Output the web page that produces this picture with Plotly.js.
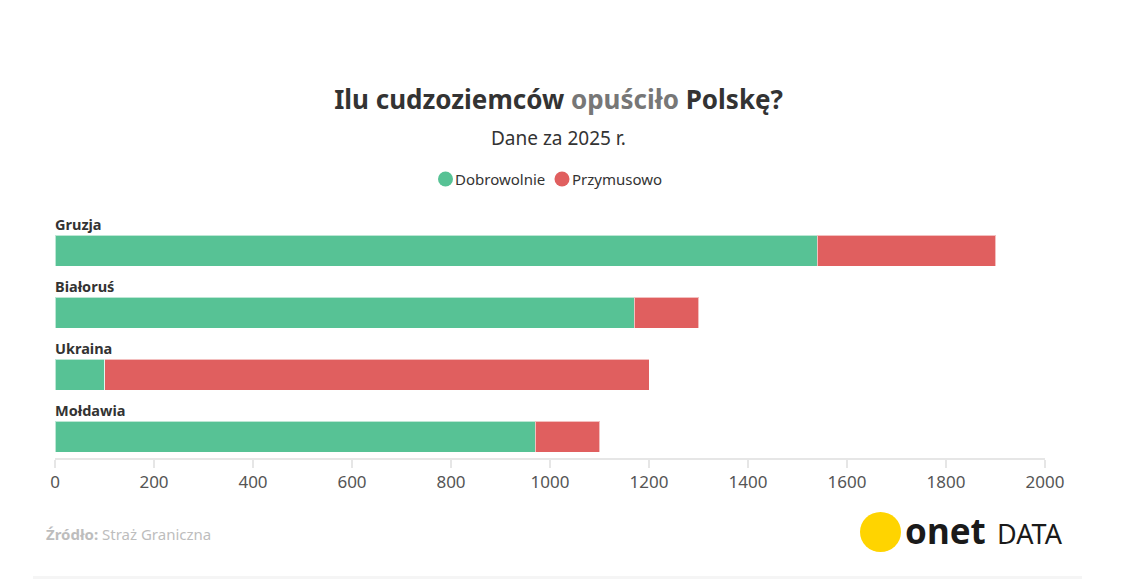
<!DOCTYPE html>
<html><head><meta charset="utf-8">
<script src="https://cdn.plot.ly/plotly-3.0.1.min.js"></script>
<style>html,body{margin:0;padding:0;background:#fff}#chart{width:1125px;height:579px}</style>
</head><body><div id="chart"></div>
<script>
const categories = ["Gruzja", "Białoruś", "Ukraina", "Mołdawia"];
const dobrowolnie = [1540, 1170, 100, 970];
const przymusowo = [360, 130, 1100, 130];
const xTicks = [0, 200, 400, 600, 800, 1000, 1200, 1400, 1600, 1800, 2000];
const seriesNames = ["Dobrowolnie", "Przymusowo"];

const GREEN = "#57c295", RED = "#e05f5f";
const FONT = "Noto Sans";
const L = 55, R = 1045, T = 220, B = 458;
const px = x => (x - L) / (R - L);
const py = y => (B - y) / (B - T);

const traces = [
  {type: "bar", orientation: "h", name: seriesNames[0], y: categories, x: dobrowolnie,
   marker: {color: GREEN, line: {color: "rgba(255,255,255,0.6)", width: 1}}, width: 0.5,
   showlegend: false},
  {type: "bar", orientation: "h", name: seriesNames[1], y: categories, x: przymusowo,
   marker: {color: RED, line: {color: "rgba(255,255,255,0.6)", width: 1}}, width: 0.5,
   showlegend: false}
];

const annotations = categories.map((c, i) => ({
  x: 0, y: c, xref: "x", yref: "y", text: "<b>" + c + "</b>", showarrow: false,
  xanchor: "left", yanchor: "bottom", yshift: 15, xshift: -2,
  font: {family: FONT, size: 14.5, color: "#333"}
}));
// legend (custom, circles)
const legendItems = [
  {name: seriesNames[0], color: GREEN, cx: 445.5, tx: 453},
  {name: seriesNames[1], color: RED, cx: 562, tx: 570}
];
const shapes = [];
legendItems.forEach(it => {
  annotations.push({xref: "paper", yref: "paper", x: px(it.tx), y: py(179), xanchor: "left", yanchor: "middle",
    showarrow: false, text: it.name, font: {family: FONT, size: 15, color: "#333"}});
  shapes.push({type: "circle", xref: "paper", yref: "paper", x0: px(it.cx - 7.5), x1: px(it.cx + 7.5),
    y0: py(186.5), y1: py(171.5), fillcolor: it.color, line: {width: 0}});
});
annotations.push({
  xref: "paper", yref: "paper", x: px(44), y: py(534), xanchor: "left", yanchor: "middle",
  showarrow: false, text: "<b>Źródło:</b> Straż Graniczna",
  font: {family: FONT, size: 15, color: "#bdbdbd"}
});
annotations.push({
  xref: "paper", yref: "paper", x: px(903), y: py(530), xanchor: "left", yanchor: "middle",
  showarrow: false, text: "<b>onet</b>", font: {family: FONT, size: 35, color: "#1a1a1a"}
});
annotations.push({
  xref: "paper", yref: "paper", x: px(995), y: py(533), xanchor: "left", yanchor: "middle",
  showarrow: false, text: "DATA", font: {family: FONT, size: 27, color: "#1a1a1a"}
});
annotations.push({
  xref: "paper", yref: "paper", x: px(558.5), y: py(138), xanchor: "center", yanchor: "middle",
  showarrow: false, text: "Dane za 2025 r.", font: {family: FONT, size: 19, color: "#333"}
});
shapes.push({type: "circle", xref: "paper", yref: "paper", x0: px(860), x1: px(901), y0: py(552), y1: py(512),
  fillcolor: "#ffd400", line: {width: 0}});
shapes.push({type: "rect", xref: "paper", yref: "paper", x0: px(33), x1: px(1082), y0: py(579), y1: py(576),
  fillcolor: "#f5f5f5", line: {width: 0}});

const layout = {
  width: 1125, height: 579,
  margin: {l: L, r: 1125 - R, t: T, b: 579 - B, pad: 0},
  paper_bgcolor: "#fff", plot_bgcolor: "#fff",
  barmode: "stack", bargap: 0.5,
  font: {family: FONT, color: "#333"},
  title: {text: "<b>Ilu cudzoziemców <span style='color:#777'>opuściło</span> Polskę?</b>",
          x: 558.5 / 1125, xref: "container", xanchor: "center", y: 1 - 100 / 579, yanchor: "middle",
          font: {family: FONT, size: 26, color: "#333"}},
  showlegend: false,
  xaxis: {range: [0, 2000], tickvals: xTicks, ticktext: xTicks.map(String), showgrid: false, zeroline: false,
          showline: true, linecolor: "#e6e6e6", linewidth: 2, ticks: "outside", ticklen: 8,
          tickcolor: "#e6e6e6", tickwidth: 2, tickfont: {family: FONT, size: 17, color: "#555"}, fixedrange: true},
  yaxis: {type: "category", categoryorder: "array", categoryarray: categories,
          range: [3 + 21.5 / 62, -0.5], showticklabels: false, showgrid: false, zeroline: false,
          showline: false, ticks: "", fixedrange: true},
  annotations: annotations,
  shapes: shapes
};

Plotly.newPlot("chart", traces, layout, {displayModeBar: false, staticPlot: true});
</script></body></html>
